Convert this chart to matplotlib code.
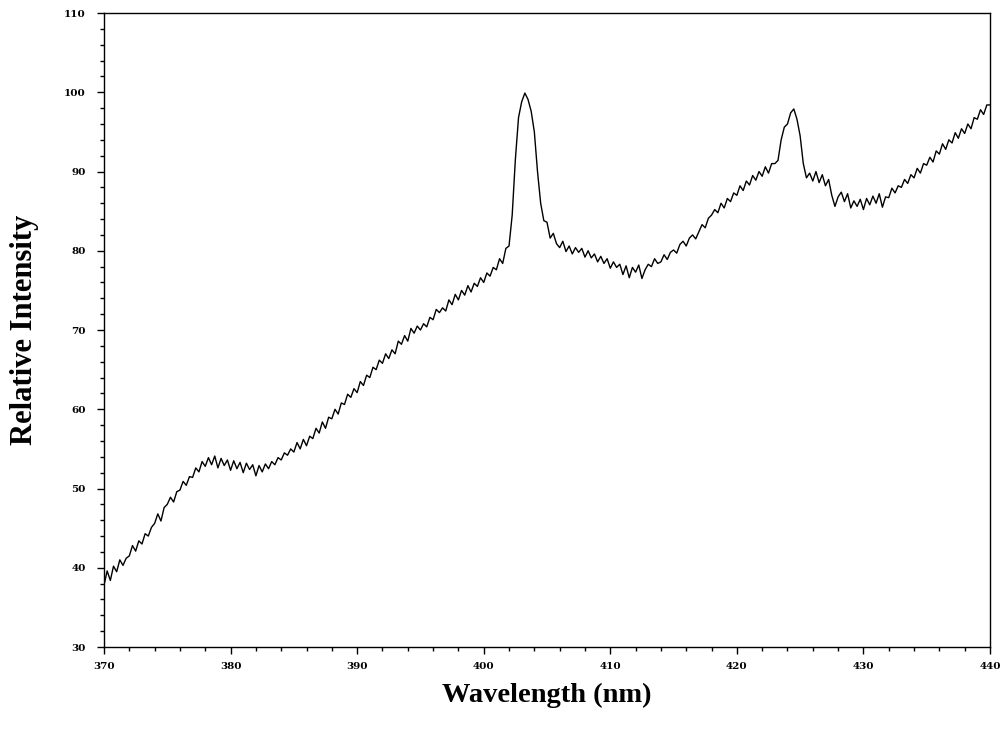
import numpy as np
import matplotlib
matplotlib.use("Agg")
import matplotlib.pyplot as plt
from matplotlib.ticker import MultipleLocator

# Wavelength grid start/step (nm) and intensity values
wl_start = 370.0
wl_step = 0.25
intensity = [
    37.8, 39.6, 38.4, 40.2,   # 370
    39.5, 41.0, 40.3, 41.2,   # 371
    41.5, 42.8, 42.1, 43.4,   # 372
    43.0, 44.3, 44.0, 45.1,   # 373
    45.6, 46.8, 45.9, 47.6,   # 374
    48.0, 48.9, 48.3, 49.6,   # 375
    49.8, 50.9, 50.4, 51.5,   # 376
    51.4, 52.6, 52.1, 53.4,   # 377
    52.8, 53.9, 53.0, 54.1,   # 378
    52.6, 53.8, 52.9, 53.6,   # 379
    52.3, 53.5, 52.5, 53.3,   # 380
    52.0, 53.2, 52.4, 53.0,   # 381
    51.6, 52.9, 52.1, 53.1,   # 382
    52.5, 53.4, 53.0, 53.9,   # 383
    53.6, 54.5, 54.2, 55.0,   # 384
    54.6, 55.8, 55.0, 56.2,   # 385
    55.4, 56.6, 56.3, 57.6,   # 386
    57.0, 58.4, 57.6, 59.0,   # 387
    58.8, 60.0, 59.4, 60.8,   # 388
    60.6, 61.9, 61.5, 62.6,   # 389
    62.1, 63.5, 63.0, 64.3,   # 390
    64.0, 65.3, 65.0, 66.2,   # 391
    65.8, 67.0, 66.4, 67.5,   # 392
    67.0, 68.6, 68.2, 69.3,   # 393
    68.6, 70.2, 69.6, 70.5,   # 394
    70.0, 70.8, 70.4, 71.6,   # 395
    71.3, 72.6, 72.2, 72.8,   # 396
    72.4, 73.8, 73.2, 74.5,   # 397
    73.8, 75.0, 74.4, 75.6,   # 398
    74.8, 75.9, 75.5, 76.6,   # 399
    76.0, 77.2, 76.8, 77.9,   # 400
    77.6, 79.0, 78.4, 80.3,   # 401
    80.6, 84.5, 91.5, 96.8,   # 402
    98.8, 99.9, 99.1, 97.6,   # 403
    95.0, 90.0, 86.0, 83.8,   # 404
    83.6, 81.6, 82.2, 80.9,   # 405
    80.4, 81.2, 79.9, 80.6,   # 406
    79.6, 80.4, 79.8, 80.3,   # 407
    79.2, 80.0, 79.1, 79.6,   # 408
    78.6, 79.3, 78.4, 79.0,   # 409
    77.8, 78.6, 77.9, 78.3,   # 410
    77.0, 78.1, 76.6, 77.9,   # 411
    77.3, 78.2, 76.5, 77.6,   # 412
    78.3, 78.0, 79.0, 78.4,   # 413
    78.6, 79.5, 78.9, 79.8,   # 414
    80.1, 79.7, 80.8, 81.2,   # 415
    80.6, 81.6, 82.0, 81.5,   # 416
    82.4, 83.3, 82.9, 84.1,   # 417
    84.5, 85.2, 84.8, 86.0,   # 418
    85.4, 86.6, 86.2, 87.3,   # 419
    87.0, 88.2, 87.6, 88.8,   # 420
    88.3, 89.5, 88.9, 90.0,   # 421
    89.4, 90.6, 89.8, 91.0,   # 422
    91.0, 91.4, 94.0, 95.6,   # 423
    96.0, 97.4, 97.9, 96.6,   # 424
    94.5, 91.0, 89.2, 89.8,   # 425
    88.8, 90.0, 88.6, 89.6,   # 426
    88.2, 89.0, 87.0, 85.6,   # 427
    86.8, 87.4, 86.2, 87.2,   # 428
    85.4, 86.3, 85.6, 86.5,   # 429
    85.2, 86.6, 85.8, 86.9,   # 430
    86.0, 87.2, 85.5, 86.8,   # 431
    86.7, 87.9, 87.3, 88.2,   # 432
    88.0, 89.0, 88.5, 89.6,   # 433
    89.2, 90.4, 89.8, 91.0,   # 434
    90.8, 91.8, 91.2, 92.6,   # 435
    92.2, 93.5, 92.8, 94.0,   # 436
    93.6, 94.9, 94.2, 95.4,   # 437
    94.8, 96.0, 95.4, 96.8,   # 438
    96.6, 97.8, 97.2, 98.4,   # 439
    98.4,                     # 440
]
wavelength = wl_start + wl_step * np.arange(len(intensity))

x_ticks = [370, 380, 390, 400, 410, 420, 430, 440]
y_ticks = [30, 40, 50, 60, 70, 80, 90, 100, 110]

fig = plt.figure(figsize=(10.01, 7.36), dpi=100)
ax = fig.add_axes([0.1039, 0.1209, 0.989 - 0.1039, 0.9823 - 0.1209])
ax.plot(wavelength, intensity, color="black", linewidth=1.0)

ax.set_xlim(370, 440)
ax.set_ylim(30, 110)
ax.set_xticks(x_ticks)
ax.set_yticks(y_ticks)
ax.xaxis.set_minor_locator(MultipleLocator(2))
ax.yaxis.set_minor_locator(MultipleLocator(2))
ax.tick_params(axis="both", which="major", direction="out", length=5, width=1.0,
               labelsize=7.5, top=False, right=False)
ax.tick_params(axis="both", which="minor", direction="out", length=3, width=1.0,
               top=False, right=False)
for lbl in ax.get_xticklabels() + ax.get_yticklabels():
    lbl.set_fontfamily("DejaVu Serif")
    lbl.set_fontweight("bold")
ax.tick_params(axis="x", pad=6)
ax.tick_params(axis="y", pad=8)
for sp in ax.spines.values():
    sp.set_linewidth(1.0)

ax.set_xlabel("Wavelength (nm)", fontfamily="Liberation Serif", fontweight="bold",
              fontsize=20.5, labelpad=8)
ax.set_ylabel("Relative Intensity", fontfamily="Liberation Serif", fontweight="bold",
              fontsize=22, labelpad=18)

fig.savefig("out.png", dpi=100)
